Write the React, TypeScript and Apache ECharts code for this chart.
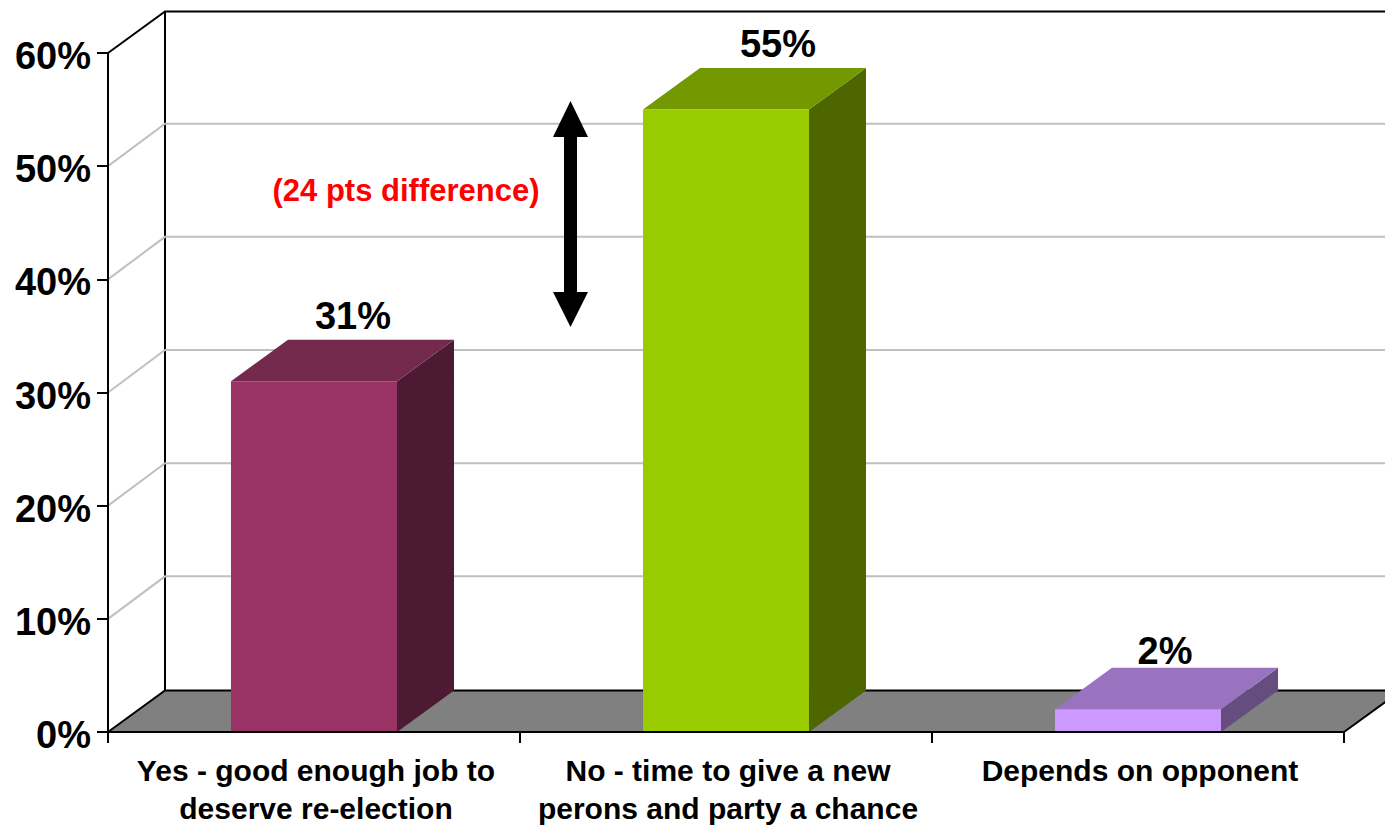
import React, { useEffect, useRef } from "react";
import * as echarts from "echarts";

const categories = [
  "Yes - good enough job to\ndeserve re-election",
  "No - time to give a new\nperons and party a chance",
  "Depends on opponent",
];
const values = [31, 55, 2];
const valueLabels = ["31%", "55%", "2%"];
const wallTicks = [10, 20, 30, 40, 50];
const annotationText = "(24 pts difference)";

const frontColors = ["#993366", "#99CC00", "#CC99FF"];
const topColors = ["#732A4D", "#739900", "#9973BF"];
const sideColors = ["#4D1A33", "#4D6600", "#664D80"];
const labelOffsets = [
  [39, -24],
  [52, -24],
  [27, -17],
];

const DX = 57;
const DY = 41.5;
const GRID_DY = 42.5;
const FONT = '"Liberation Sans", Arial, Helvetica, sans-serif';

function poly(points: number[][], fill: string) {
  return { type: "polygon", shape: { points }, style: { fill, stroke: null } };
}
function line(points: number[][], stroke: string, lineWidth: number) {
  return { type: "polyline", shape: { points }, style: { fill: null, stroke, lineWidth } };
}

export default function App() {
  const ref = useRef<HTMLDivElement>(null);
  useEffect(() => {
    document.body.style.margin = "0";
    const chart = echarts.init(ref.current!, undefined, { renderer: "svg" });
    chart.setOption({
      animation: false,
      backgroundColor: "#ffffff",
      grid: { left: 108, right: 41, top: 53, bottom: 93, containLabel: false, outerBoundsMode: "none" },
      xAxis: {
        type: "category",
        data: categories,
        axisLine: { lineStyle: { color: "#000", width: 2 } },
        axisTick: { show: true, length: 11, alignWithLabel: false, lineStyle: { color: "#000", width: 2 } },
        axisLabel: {
          interval: 0,
          margin: 19,
          color: "#000",
          fontFamily: FONT,
          fontWeight: "bold",
          fontSize: 30,
          lineHeight: 38,
          padding: [0, 0, 0, 4],
          hideOverlap: false,
        },
        splitLine: { show: false },
        z: 5,
      },
      yAxis: {
        type: "value",
        min: 0,
        max: 60,
        interval: 10,
        axisLine: { show: true, lineStyle: { color: "#000", width: 2 } },
        axisTick: { show: true, length: 11, lineStyle: { color: "#000", width: 2 } },
        axisLabel: {
          formatter: "{value}%",
          margin: 17,
          color: "#000",
          fontFamily: FONT,
          fontWeight: "bold",
          fontSize: 38,
          verticalAlign: "top",
          lineHeight: 6,
        },
        splitLine: { show: false },
        z: 5,
      },
      series: [
        {
          // back wall, side wall and floor
          type: "custom",
          silent: true,
          z: 1,
          data: [[0, 0]],
          encode: { x: 0, y: 1 },
          renderItem: (params: any, api: any) => {
            const cs = params.coordSys;
            const x0 = cs.x;
            const x1 = cs.x + cs.width;
            const yBase = api.coord([0, 0])[1];
            const yTop = api.coord([0, 60])[1];
            return {
              type: "group",
              children: [
                poly(
                  [
                    [x0, yBase],
                    [x0 + DX, yBase - DY],
                    [x1 + DX, yBase - DY],
                    [x1, yBase],
                  ],
                  "#808080"
                ),
                line(
                  [
                    [x0, yBase],
                    [x0 + DX, yBase - DY],
                    [x1 + DX, yBase - DY],
                  ],
                  "#000",
                  2
                ),
                line(
                  [
                    [x1, yBase],
                    [x1 + DX, yBase - DY],
                  ],
                  "#000",
                  2
                ),
                line(
                  [
                    [x0 + DX, yBase - DY],
                    [x0 + DX, yTop - DY],
                  ],
                  "#000",
                  2
                ),
                line(
                  [
                    [x0, yTop],
                    [x0 + DX, yTop - DY],
                    [x1 + DX, yTop - DY],
                  ],
                  "#000",
                  2
                ),
              ],
            };
          },
        },
        {
          // grid lines on the walls
          type: "custom",
          silent: true,
          z: 2,
          data: wallTicks.map((t) => [0, t]),
          encode: { x: 0, y: 1 },
          renderItem: (params: any, api: any) => {
            const cs = params.coordSys;
            const y = api.coord([0, api.value(1)])[1];
            return line(
              [
                [cs.x, y],
                [cs.x + DX, y - GRID_DY],
                [cs.x + cs.width + DX, y - GRID_DY],
              ],
              "#C0C0C0",
              2
            );
          },
        },
        {
          // the 3D bars
          type: "custom",
          silent: true,
          z: 3,
          data: values.map((v, i) => [i, v]),
          encode: { x: 0, y: 1 },
          renderItem: (params: any, api: any) => {
            const i = params.dataIndex;
            const top = api.coord([i, api.value(1)]);
            const base = api.coord([i, 0]);
            const w = api.size([1, 0])[0] * 0.403;
            const l = top[0] - w / 2;
            const r = top[0] + w / 2;
            const yt = top[1];
            const yb = base[1];
            return {
              type: "group",
              children: [
                poly(
                  [
                    [r, yb],
                    [r + DX, yb - DY],
                    [r + DX, yt - DY],
                    [r, yt],
                  ],
                  sideColors[i]
                ),
                poly(
                  [
                    [l, yt],
                    [l + DX, yt - DY],
                    [r + DX, yt - DY],
                    [r, yt],
                  ],
                  topColors[i]
                ),
                poly(
                  [
                    [l, yb],
                    [l, yt],
                    [r, yt],
                    [r, yb],
                  ],
                  frontColors[i]
                ),
                {
                  type: "text",
                  style: {
                    text: valueLabels[i],
                    x: top[0] + labelOffsets[i][0],
                    y: yt - DY + labelOffsets[i][1],
                    align: "center",
                    verticalAlign: "middle",
                    fill: "#000",
                    fontFamily: FONT,
                    fontWeight: "bold",
                    fontSize: 38,
                  },
                },
              ],
            };
          },
        },
      ],
      graphic: [
        {
          type: "polygon",
          silent: true,
          z: 10,
          shape: {
            points: [
              [570.5, 101],
              [588, 137],
              [577, 137],
              [577, 292],
              [588, 292],
              [570.5, 327],
              [553, 292],
              [564, 292],
              [564, 137],
              [553, 137],
            ],
          },
          style: { fill: "#000" },
        },
        {
          type: "text",
          silent: true,
          z: 10,
          style: {
            text: annotationText,
            x: 406,
            y: 190,
            align: "center",
            verticalAlign: "middle",
            fill: "#FF0000",
            fontFamily: FONT,
            fontWeight: "bold",
            fontSize: 31,
          },
        },
      ],
    });
    return () => chart.dispose();
  }, []);
  return <div ref={ref} style={{ position: "absolute", left: 0, top: 0, width: 1385, height: 825 }} />;
}
